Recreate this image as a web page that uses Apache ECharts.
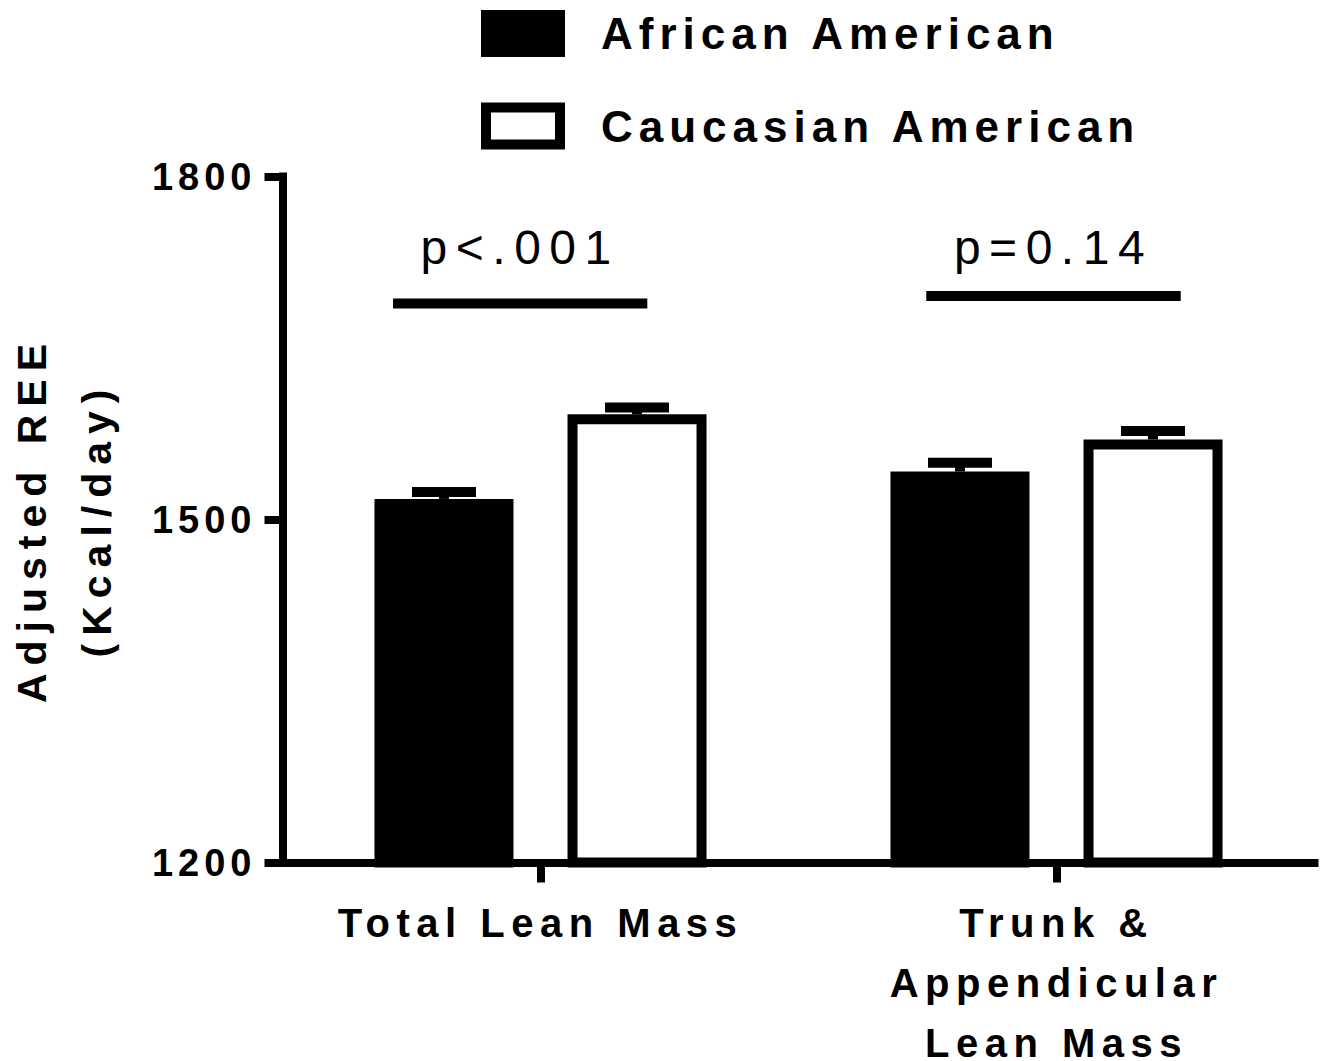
<!DOCTYPE html>
<html>
<head>
<meta charset="utf-8">
<script src="https://cdn.jsdelivr.net/npm/echarts@6/dist/echarts.min.js"></script>
<style>
html, body { margin: 0; padding: 0; background: #fff; }
#chart { width: 1328px; height: 1061px; }
#chart text[style*="44px"] { letter-spacing: 6px; }
#chart text[style*="48px"] { letter-spacing: 8.5px; }
#chart text[style*="41px"] { letter-spacing: 8px; }
#chart text[style*="40px"] { letter-spacing: 6.5px; }
#chart text[style*="38px"] { letter-spacing: 5px; }
</style>
</head>
<body>
<div id="chart"></div>
<script>
// ---- data ----
const categories = ['Total Lean Mass', 'Trunk &\nAppendicular\nLean Mass'];
const seriesNames = ['African American', 'Caucasian American'];
const aaMean = [1518, 1542];
const aaSem = [6, 7.7];
const caMean = [1592, 1570];
const caSem = [6, 7.4];
const yTicks = [1200, 1500, 1800];
const sigText = ['p<.001', 'p=0.14'];
const sigLevel = [1689, 1695.5];
const sigTextLevel = [1737.5, 1737.5];

// ---- layout / style constants ----
const FONT = '"Liberation Sans", Arial, Helvetica, sans-serif';
const BAR_FRAC = 0.2694;        // bar width as fraction of category band
const GAP_FRAC = 0.1047;        // gap between bars as fraction of band
const OFFSET = BAR_FRAC / 2 + GAP_FRAC / 2;
const CAP_FRAC = 0.124;         // error-bar cap width as fraction of band
const LINE_W = 10;
const SIG_SPAN = [[-0.2858, 0.207], [-0.2523, 0.2407]];

function errRender(offsetFrac) {
  return function (params, api) {
    const c = api.value(0), m = api.value(1), s = api.value(2);
    const band = api.size([1, 0])[0];
    const base = api.coord([c, m]);
    const top = api.coord([c, m + s]);
    const cx = base[0] + offsetFrac * band;
    const capW = band * CAP_FRAC;
    return {
      type: 'group',
      children: [
        { type: 'rect', shape: { x: cx - LINE_W / 2, y: top[1], width: LINE_W, height: base[1] - top[1] }, style: { fill: '#000' } },
        { type: 'rect', shape: { x: cx - capW / 2, y: top[1] - LINE_W / 2, width: capW, height: LINE_W }, style: { fill: '#000' } }
      ]
    };
  };
}

function sigRender(params, api) {
  const i = params.dataIndex;
  const c = api.value(0), lv = api.value(1), tv = api.value(2);
  const band = api.size([1, 0])[0];
  const p = api.coord([c, lv]);
  const t = api.coord([c, tv]);
  const x0 = p[0] + SIG_SPAN[i][0] * band;
  const x1 = p[0] + SIG_SPAN[i][1] * band;
  return {
    type: 'group',
    children: [
      { type: 'rect', shape: { x: x0, y: p[1] - LINE_W / 2, width: x1 - x0, height: LINE_W }, style: { fill: '#000' } },
      { type: 'text', style: { text: sigText[i], x: (x0 + x1) / 2, y: t[1], align: 'center', verticalAlign: 'middle',
        fontSize: 48, fontWeight: 'normal', fontFamily: FONT, fill: '#000' } }
    ]
  };
}

const chart = echarts.init(document.getElementById('chart'), null, { renderer: 'svg' });
chart.setOption({
  animation: false,
  backgroundColor: '#fff',
  grid: { left: 282.5, right: 13.5, top: 176.5, bottom: 198.5, outerBoundsMode: 'none', containLabel: false },
  legend: {
    data: seriesNames,
    orient: 'vertical',
    left: 481, top: 10, padding: 0, itemGap: 45.5,
    itemWidth: 74, itemHeight: 37, icon: 'rect',
    selectedMode: false,
    itemStyle: { borderWidth: 10, borderColor: '#000' },
    textStyle: { fontSize: 44, fontWeight: 'bold', fontFamily: FONT, color: '#000', padding: [6, 0, 0, 36] }
  },
  xAxis: {
    type: 'category',
    data: categories,
    z: 10,
    axisLine: { lineStyle: { color: '#000', width: 8, cap: 'square' } },
    axisTick: { show: true, alignWithLabel: true, length: 20, lineStyle: { color: '#000', width: 8 } },
    axisLabel: { interval: 0, color: '#000', fontSize: 40, fontWeight: 'bold', fontFamily: FONT, lineHeight: 60, margin: 30 },
    splitLine: { show: false }
  },
  yAxis: {
    type: 'value',
    min: yTicks[0], max: yTicks[yTicks.length - 1], interval: yTicks[1] - yTicks[0],
    z: 10,
    name: 'Adjusted REE\n(Kcal/day)',
    nameLocation: 'middle',
    nameGap: 153,
    nameTextStyle: { fontSize: 41, fontWeight: 'bold', fontFamily: FONT, color: '#000', lineHeight: 65 },
    axisLine: { show: true, lineStyle: { color: '#000', width: 8, cap: 'square' } },
    axisTick: { show: true, length: 18, lineStyle: { color: '#000', width: 8 } },
    axisLabel: { color: '#000', fontSize: 38, fontWeight: 'bold', fontFamily: FONT, margin: 26, padding: [6, 0, 0, 0], formatter: v => String(v) },
    splitLine: { show: false }
  },
  series: [
    { name: seriesNames[0], type: 'bar', data: aaMean, barWidth: (BAR_FRAC * 100) + '%', barGap: (GAP_FRAC / BAR_FRAC * 100) + '%',
      itemStyle: { color: '#000', borderColor: '#000', borderWidth: 10 } },
    { name: seriesNames[1], type: 'bar', data: caMean, barWidth: (BAR_FRAC * 100) + '%', barGap: (GAP_FRAC / BAR_FRAC * 100) + '%',
      itemStyle: { color: '#fff', borderColor: '#000', borderWidth: 10 } },
    { name: 'err-aa', type: 'custom', z: 3, renderItem: errRender(-OFFSET),
      data: categories.map((c, i) => [i, aaMean[i], aaSem[i]]) },
    { name: 'err-ca', type: 'custom', z: 3, renderItem: errRender(OFFSET),
      data: categories.map((c, i) => [i, caMean[i], caSem[i]]) },
    { name: 'sig', type: 'custom', z: 3, renderItem: sigRender,
      data: categories.map((c, i) => [i, sigLevel[i], sigTextLevel[i]]) }
  ]
});
</script>
</body>
</html>
